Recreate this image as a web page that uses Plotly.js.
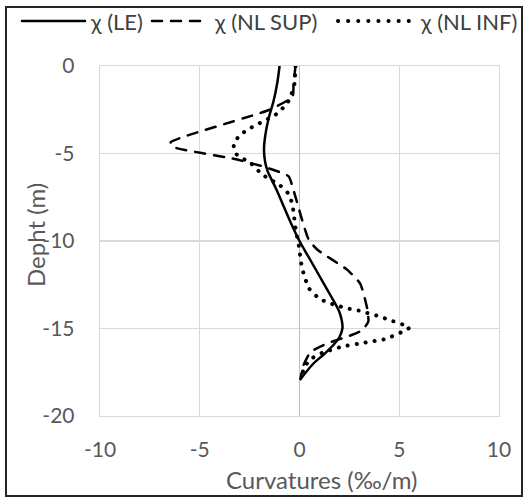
<!DOCTYPE html>
<html>
<head>
<meta charset="utf-8">
<script src="https://cdn.plot.ly/plotly-3.0.1.min.js"></script>
<style>
  html, body { margin: 0; padding: 0; background: #fff; }
  #chart { width: 523px; height: 497px; position: absolute; left: 0; top: 0; }
  #frame { position: absolute; left: 5px; top: 6px; width: 514px; height: 487px; border: 2px solid #262626; pointer-events: none; }
  .js-line, .shapelayer path { stroke-linecap: round; }
</style>
</head>
<body>
<div id="chart"></div>
<div id="frame"></div>
<script>
// Depth (m) and curvature (‰/m) values
const depthLE = [0, -1, -2, -3, -4, -4.8, -5.5, -6, -7, -8, -9, -10, -11, -12, -13, -14, -14.6, -15, -15.5, -16, -16.5, -17, -17.9];
const curvLE  = [-1.0, -1.12, -1.3, -1.55, -1.72, -1.78, -1.72, -1.6, -1.18, -0.8, -0.42, 0, 0.5, 1.0, 1.5, 1.98, 2.13, 2.15, 2.0, 1.65, 1.2, 0.7, 0.05];

const depthSUP = [0, -1, -1.75, -2.5, -4.35, -4.6, -5.3, -5.75, -6.3, -7.1, -9.9, -10.5, -11.65, -12.45, -13.9, -14.6, -15.1, -15.4, -15.85, -16.35, -17.1, -17.85];
const curvSUP  = [-0.2, -0.3, -0.35, -1.5, -6.45, -6.4, -3.3, -1.8, -0.55, -0.3, 0.45, 0.9, 2.4, 3.05, 3.4, 3.45, 3.15, 2.55, 1.4, 0.55, 0.2, 0.05];

const depthINF = [0, -1, -1.6, -2.1, -2.72, -3.3, -3.6, -3.97, -4.45, -5.0, -5.6, -6.2, -6.83, -7.28, -7.85, -8.5, -9.1, -9.75, -10.3, -11, -11.56, -12.2, -12.7, -13.18, -13.47, -13.66, -13.85, -13.95, -14.3, -14.5, -14.95, -15.6, -15.8, -16.04, -16.4, -16.7, -17.1, -17.85];
const curvINF  = [-0.2, -0.25, -0.4, -0.6, -1.12, -2.05, -2.55, -3.0, -3.3, -3.2, -2.4, -1.87, -0.97, -0.57, -0.37, -0.28, -0.22, -0.12, -0.03, 0.05, 0.13, 0.3, 0.47, 0.88, 1.3, 1.8, 2.38, 2.88, 3.97, 4.47, 5.5, 4.3, 3.3, 2.13, 1.13, 0.63, 0.3, 0.05];

const seriesNames = ['χ (LE)', 'χ (NL SUP)', 'χ (NL INF)'];
const xTicks = [-10, -5, 0, 5, 10];
const yTicks = [0, -5, -10, -15, -20];

const FONT = 'Lato, "Open Sans", sans-serif';
const TXT = '#595959';
const LEGTXT = '#404040';

const dashSUP = '10px,9px';
const dashINF = '0.1px,9px';
const dashINFLeg = '0.1px,10px';

const traces = [
  { x: curvLE, y: depthLE, name: seriesNames[0], mode: 'lines', line: { color: '#000', width: 2.5, shape: 'spline', smoothing: 1 } },
  { x: curvSUP, y: depthSUP, name: seriesNames[1], mode: 'lines', line: { color: '#000', width: 2.5, dash: dashSUP, shape: 'spline', smoothing: 0.5 } },
  { x: curvINF, y: depthINF, name: seriesNames[2], mode: 'lines', line: { color: '#000', width: 4, dash: dashINF, shape: 'spline', smoothing: 0.5 } }
];

// plot area in px: x 100..499, y 66..416
const L = 100, R = 499, T = 66, B = 416;
const px = v => (v - L) / (R - L);
const py = v => (B - v) / (B - T);

const legY = py(21);
const shapes = [
  { type: 'line', xref: 'paper', yref: 'paper', x0: px(22), x1: px(85), y0: legY, y1: legY, line: { color: '#000', width: 2.5 } },
  { type: 'line', xref: 'paper', yref: 'paper', x0: px(152), x1: px(202), y0: legY, y1: legY, line: { color: '#000', width: 2.5, dash: dashSUP } },
  { type: 'line', xref: 'paper', yref: 'paper', x0: px(338), x1: px(418), y0: legY, y1: legY, line: { color: '#000', width: 4, dash: dashINFLeg } }
];

const LEGSIZE = 22;
const annotations = [
  { xref: 'paper', yref: 'paper', x: px(88), y: legY, xanchor: 'left', yanchor: 'middle', text: seriesNames[0], showarrow: false, font: { family: FONT, size: LEGSIZE, color: LEGTXT } },
  { xref: 'paper', yref: 'paper', x: px(212), y: legY, xanchor: 'left', yanchor: 'middle', text: seriesNames[1], showarrow: false, font: { family: FONT, size: LEGSIZE, color: LEGTXT } },
  { xref: 'paper', yref: 'paper', x: px(519), y: legY, xanchor: 'right', yanchor: 'middle', text: seriesNames[2], showarrow: false, font: { family: FONT, size: LEGSIZE, color: LEGTXT } },
  { xref: 'paper', yref: 'paper', x: px(322), y: py(479), xanchor: 'center', yanchor: 'middle', text: 'Curvatures (‰/m)', showarrow: false, font: { family: FONT, size: 24, color: TXT } },
  { xref: 'paper', yref: 'paper', x: px(35), y: py(235), xanchor: 'center', yanchor: 'middle', textangle: -90, text: 'Depht (m)', showarrow: false, font: { family: FONT, size: 24, color: TXT } }
];

const layout = {
  width: 523, height: 497,
  margin: { l: L, r: 523 - R, t: T, b: 497 - B, pad: 0 },
  paper_bgcolor: '#fff', plot_bgcolor: '#fff',
  showlegend: false,
  font: { family: FONT, size: 21, color: TXT },
  xaxis: {
    range: [-10, 10], tickvals: xTicks, ticktext: xTicks.map(String),
    showgrid: true, gridcolor: '#d9d9d9', gridwidth: 1.3,
    zeroline: true, zerolinecolor: '#bfbfbf', zerolinewidth: 1.6,
    showline: true, linecolor: '#d9d9d9', linewidth: 1.3, mirror: true,
    ticks: '', ticklabelstandoff: 14,
    tickfont: { family: FONT, size: 21, color: TXT }
  },
  yaxis: {
    range: [-20, 0], tickvals: yTicks, ticktext: yTicks.map(String),
    showgrid: true, gridcolor: '#d9d9d9', gridwidth: 1.3,
    zeroline: false,
    showline: true, linecolor: '#d9d9d9', linewidth: 1.3, mirror: true,
    ticks: '', ticklabelstandoff: 20,
    tickfont: { family: FONT, size: 21, color: TXT }
  },
  shapes: shapes,
  annotations: annotations
};

Plotly.newPlot('chart', traces, layout, { staticPlot: true, displayModeBar: false });
</script>
</body>
</html>
